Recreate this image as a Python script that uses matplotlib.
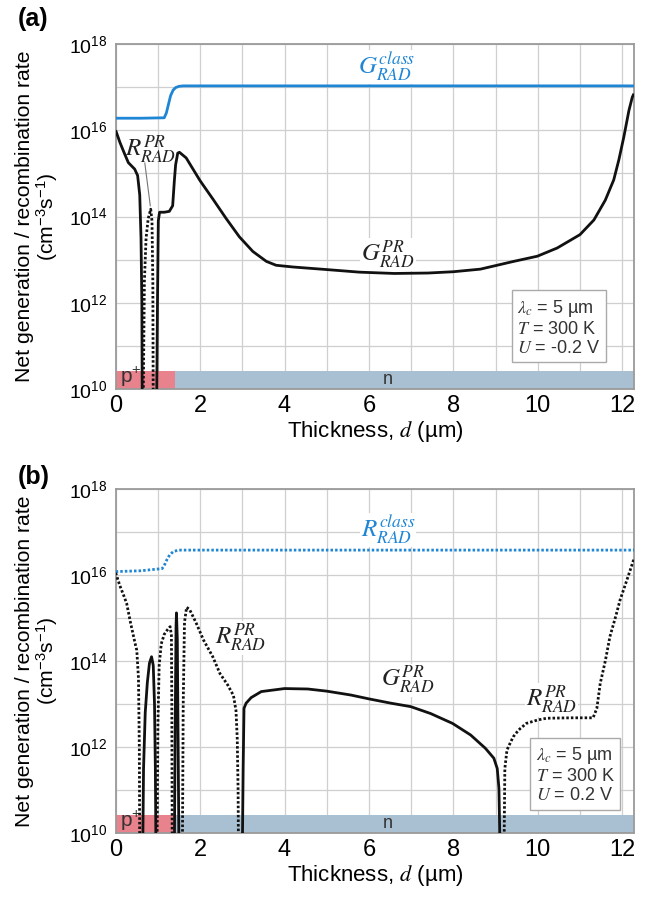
import matplotlib
matplotlib.use('Agg')
import matplotlib.pyplot as plt
import numpy as np

plt.rcParams['font.family'] = ['Liberation Sans', 'DejaVu Sans']
plt.rcParams['mathtext.fontset'] = 'stix'

# thickness axis and doping regions (µm)
x_max = 12.28
p_n_junction = 1.4
band_top = 2.6e10

# ---- (a) U = -0.2 V: values given as log10 of the rate ----
g_class_a_x = [0, 0.6, 1.15, 1.2, 1.25, 1.3, 1.36, 1.42, 1.5, 1.6, x_max]
g_class_a_y = [16.28, 16.28, 16.29, 16.4, 16.6, 16.8, 16.93, 16.99, 17.02, 17.03, 17.03]

g_pr_a1_x = [0, 0.1, 0.2, 0.3, 0.38, 0.45, 0.52, 0.57, 0.6, 0.62, 0.63]
g_pr_a1_y = [16.0, 15.72, 15.48, 15.25, 15.17, 15.1, 14.95, 14.5, 13.5, 12.0, 9.5]

g_pr_a2_x = [0.97, 0.99, 1.01, 1.04, 1.15, 1.27, 1.35, 1.39, 1.42, 1.47, 1.51, 1.67,
             2.0, 2.3, 2.62, 2.93, 3.25, 3.57, 3.8, 4.2, 5.0, 5.78, 6.6, 7.4, 8.0,
             8.64, 9.43, 9.99, 10.46, 11.0, 11.33, 11.6, 11.8, 11.92, 12.04, 12.16,
             12.24, 12.28]
g_pr_a2_y = [9.5, 12.0, 13.9, 14.1, 14.1, 14.12, 14.25, 14.83, 15.2, 15.47, 15.49, 15.36,
             14.83, 14.41, 13.95, 13.53, 13.19, 12.96, 12.87, 12.83, 12.77, 12.71, 12.68, 12.69, 12.72,
             12.78, 12.96, 13.08, 13.27, 13.58, 13.92, 14.38, 14.85, 15.31, 15.85, 16.46,
             16.77, 16.85]

r_pr_a_x = [0.65, 0.68, 0.72, 0.77, 0.83, 0.86, 0.88, 0.89]
r_pr_a_y = [9.5, 12.5, 13.5, 13.95, 14.17, 13.9, 12.5, 9.5]

# ---- (b) U = 0.2 V ----
r_class_b_x = [0, 0.6, 1.1, 1.15, 1.21, 1.28, 1.37, 1.5, x_max]
r_class_b_y = [16.08, 16.1, 16.15, 16.22, 16.35, 16.47, 16.55, 16.58, 16.58]

r_pr_b1_x = [0, 0.1, 0.2, 0.26, 0.35, 0.46, 0.5, 0.54, 0.56, 0.57]
r_pr_b1_y = [16.05, 15.75, 15.5, 15.34, 14.9, 14.41, 14.25, 13.6, 12.0, 9.5]
r_pr_b2_x = [0.98, 1.0, 1.03, 1.08, 1.15, 1.22, 1.29, 1.32, 1.33, 1.34]
r_pr_b2_y = [9.5, 12.5, 13.9, 14.4, 14.62, 14.72, 14.8, 14.6, 13.0, 9.5]
r_pr_b3_x = [1.58, 1.6, 1.63, 1.68, 1.75, 1.9, 2.08, 2.3, 2.47, 2.65, 2.79, 2.85, 2.88, 2.9, 2.91]
r_pr_b3_y = [9.5, 13.0, 14.9, 15.25, 15.2, 14.9, 14.49, 14.1, 13.71, 13.45, 13.2, 12.85, 12.2, 11.0, 9.5]
r_pr_b4_x = [9.2, 9.22, 9.27, 9.35, 9.42, 9.55, 9.73, 10.0, 10.21, 10.8, 11.31, 11.4,
             11.48, 11.6, 11.71, 11.85, 11.95, 12.1, 12.27, 12.28]
r_pr_b4_y = [9.5, 11.5, 11.93, 12.1, 12.24, 12.4, 12.55, 12.63, 12.67, 12.68, 12.68, 12.9,
             13.48, 14.0, 14.57, 15.05, 15.42, 15.85, 16.35, 16.38]

g_pr_b1_x = [0.64, 0.66, 0.7, 0.75, 0.8, 0.85, 0.89, 0.92, 0.94, 0.955]
g_pr_b1_y = [9.5, 11.5, 12.8, 13.5, 13.95, 14.1, 13.9, 13.0, 11.5, 9.5]
g_pr_b2_x = [1.39, 1.41, 1.43, 1.44, 1.46, 1.48, 1.5]
g_pr_b2_y = [9.5, 12.5, 14.8, 15.12, 14.5, 12.0, 9.5]
g_pr_b3_x = [3.0, 3.02, 3.04, 3.09, 3.21, 3.45, 4.0, 4.55, 5.0, 5.57, 6.0, 6.52, 6.99,
             7.46, 7.98, 8.41, 8.76, 8.96, 9.04, 9.08, 9.1, 9.11]
g_pr_b3_y = [9.5, 11.5, 12.9, 13.02, 13.15, 13.29, 13.36, 13.35, 13.3, 13.21, 13.12, 13.02, 12.94,
             12.78, 12.55, 12.28, 11.97, 11.74, 11.5, 11.04, 9.95, 9.5]

decades = [10, 12, 14, 16, 18]

blue = '#1f86d6'
pink = '#e8828c'
steel = '#a9c0d2'
grid_c = '#cfcfcf'
dots = (0, (0.9, 0.75))


def log_line(ax, xs, ys, color='#111111', ls='-'):
    ax.plot(xs, 10.0 ** np.asarray(ys), color=color, lw=2.0, ls=ls,
            solid_capstyle='butt', dash_capstyle='butt', solid_joinstyle='round', zorder=4)


def curve_label(ax, x, y, txt, color='#222222'):
    ax.text(x, 10.0 ** y, txt, fontsize=18, color=color, ha='center', va='center',
            zorder=3, bbox=dict(facecolor='white', edgecolor='none', pad=0.5))


def setup(ax, box_x, box_y, bias):
    ax.set_yscale('log')
    ax.set_xlim(0, x_max)
    ax.set_ylim(1e10, 1e18)
    ax.set_xticks(range(0, 13, 2))
    ax.set_xticks(range(0, 13), minor=True)
    ax.set_yticks([10.0 ** d for d in decades])
    ax.set_yticklabels([r'$\mathregular{10^{%d}}$' % d for d in decades], fontsize=14)
    ax.set_yticks([10.0 ** d for d in range(10, 19)], minor=True)
    ax.yaxis.set_minor_formatter(plt.NullFormatter())
    ax.tick_params(axis='x', labelsize=17, pad=4)
    ax.tick_params(which='both', length=0)
    ax.tick_params(axis='y', pad=6)
    ax.grid(True, which='both', color=grid_c, lw=0.9, zorder=0)
    for s in ax.spines.values():
        s.set_color('#9a9a9a')
        s.set_linewidth(1.3)
    ax.set_axisbelow(True)

    # doping regions along the bottom
    ax.fill_between([0, p_n_junction], 1e10, band_top, color=pink, lw=0, zorder=2)
    ax.fill_between([p_n_junction, x_max], 1e10, band_top, color=steel, lw=0, zorder=2)
    ax.text(0.1, 1.0e10, r'p$\mathregular{^{+}}$', fontsize=15, color='#333333',
            ha='left', va='bottom', zorder=3)
    ax.text(6.45, 1.05e10, 'n', fontsize=13, color='#333333', ha='center', va='bottom', zorder=3)

    ax.set_xlabel(r'Thickness, $d$ (µm)', fontsize=16, labelpad=2)
    ax.set_ylabel('Net generation / recombination rate\n'
                  r'(cm$\mathregular{^{-3}}$s$\mathregular{^{-1}}$)', fontsize=15.2,
                  linespacing=1.05, labelpad=6)

    ax.text(box_x, box_y,
            r'$\lambda_c$ = 5 µm' + '\n' + r'$T$ = 300 K' + '\n' + r'$U$ = ' + bias,
            transform=ax.transAxes, fontsize=13, color='#333333', ha='left', va='top',
            linespacing=1.15, zorder=6,
            bbox=dict(boxstyle='square,pad=0.3', facecolor='white', edgecolor='#aaaaaa', lw=1.0))


fig = plt.figure(figsize=(6.47, 8.97), dpi=100)
ax_a = fig.add_axes([0.1788, 0.5663, 0.8011, 0.3846])
ax_b = fig.add_axes([0.1788, 0.0713, 0.8011, 0.3835])

# (a)
setup(ax_a, 0.775, 0.265, '-0.2 V')
log_line(ax_a, g_class_a_x, g_class_a_y, color=blue)
log_line(ax_a, g_pr_a1_x, g_pr_a1_y)
log_line(ax_a, g_pr_a2_x, g_pr_a2_y)
log_line(ax_a, r_pr_a_x, r_pr_a_y, ls=dots)
ax_a.plot([0.69, 0.82], [10 ** 15.24, 10 ** 14.25], color='#777777', lw=0.8, zorder=4)
curve_label(ax_a, 6.41, 17.47, r'$G_{RAD}^{class}$', color=blue)
curve_label(ax_a, 6.45, 13.12, r'$G_{RAD}^{PR}$')
ax_a.text(0.82, 10 ** 15.55, r'$R_{RAD}^{PR}$', fontsize=18, color='#222222',
          ha='center', va='center', zorder=5)

# (b)
setup(ax_b, 0.81, 0.255, '0.2 V')
log_line(ax_b, r_class_b_x, r_class_b_y, color=blue, ls=dots)
for xs, ys in [(r_pr_b1_x, r_pr_b1_y), (r_pr_b2_x, r_pr_b2_y),
               (r_pr_b3_x, r_pr_b3_y), (r_pr_b4_x, r_pr_b4_y)]:
    log_line(ax_b, xs, ys, ls=dots)
for xs, ys in [(g_pr_b1_x, g_pr_b1_y), (g_pr_b2_x, g_pr_b2_y), (g_pr_b3_x, g_pr_b3_y)]:
    log_line(ax_b, xs, ys)
curve_label(ax_b, 6.45, 17.05, r'$R_{RAD}^{class}$', color=blue)
curve_label(ax_b, 2.97, 14.53, r'$R_{RAD}^{PR}$')
curve_label(ax_b, 6.93, 13.55, r'$G_{RAD}^{PR}$')
curve_label(ax_b, 10.32, 13.09, r'$R_{RAD}^{PR}$')

fig.text(0.028, 0.992, '(a)', fontsize=18, fontweight='bold', ha='left', va='top')
fig.text(0.028, 0.482, '(b)', fontsize=18, fontweight='bold', ha='left', va='top')

fig.savefig('out.png', dpi=100)
